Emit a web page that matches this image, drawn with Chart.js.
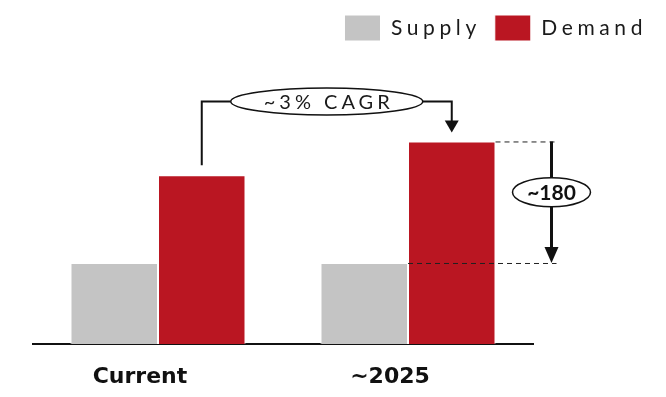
<!DOCTYPE html>
<html>
<head>
<meta charset="utf-8">
<script src="https://cdn.jsdelivr.net/npm/chart.js@4.4.1/dist/chart.umd.min.js"></script>
<style>
  html, body { margin: 0; padding: 0; background: #fff; }
  #wrap { width: 666px; height: 397px; }
</style>
</head>
<body>
<div id="wrap"><canvas id="gapChart"></canvas></div>
<script>
const categories = ['Current', '~2025'];
const supply = [120, 120];
const demand = [250, 300];
const seriesNames = ['Supply', 'Demand'];
const cagrText = '~3% CAGR';

const GREY = '#c4c4c4';
const RED = '#ba1622';
const INK = '#111111';

// legend text is letter-spaced, canvas supports that through ctx.letterSpacing
function spaced(el, name, px) {
  const orig = el[name];
  el[name] = function () {
    const ctx = this.ctx;
    ctx.save();
    ctx.letterSpacing = px + 'px';
    const r = orig.apply(this, arguments);
    ctx.restore();
    return r;
  };
}

const spacedLegend = {
  id: 'spacedLegend',
  beforeLayout(chart) {
    const legend = chart.legend;
    if (!legend || legend._spaced) return;
    legend._spaced = true;
    spaced(legend, 'fit', 4.6);
    spaced(legend, 'draw', 4.6);
  }
};

function ellipse(ctx, cx, cy, rx, ry) {
  ctx.beginPath();
  ctx.ellipse(cx, cy, rx, ry, 0, 0, Math.PI * 2);
  ctx.fillStyle = '#fff';
  ctx.fill();
  ctx.stroke();
}

function arrowHead(ctx, x, tipY, w, h) {
  ctx.beginPath();
  ctx.moveTo(x - w / 2, tipY - h);
  ctx.lineTo(x + w / 2, tipY - h);
  ctx.lineTo(x, tipY);
  ctx.closePath();
  ctx.fill();
}

// CAGR connector between the demand bars and the gap marker on the right
const gapNotes = {
  id: 'gapNotes',
  afterDatasetsDraw(chart) {
    const ctx = chart.ctx;
    const sBars = chart.getDatasetMeta(0).data;
    const dBars = chart.getDatasetMeta(1).data;
    const now = dBars[0], later = dBars[1], floor = sBars[1];

    ctx.save();
    ctx.strokeStyle = INK;
    ctx.fillStyle = INK;

    // growth connector
    const cy = later.y - 40;
    const cx = (now.x + later.x) / 2;
    const rx = 96, ry = 13.5;
    ctx.lineWidth = 2;
    ctx.beginPath();
    ctx.moveTo(now.x, now.y - 10);
    ctx.lineTo(now.x, cy);
    ctx.lineTo(cx - rx, cy);
    ctx.moveTo(cx + rx, cy);
    ctx.lineTo(later.x, cy);
    ctx.lineTo(later.x, later.y - 20);
    ctx.stroke();
    arrowHead(ctx, later.x, later.y - 9, 14, 12);

    ctx.lineWidth = 1.5;
    ellipse(ctx, cx, cy, rx, ry);
    ctx.fillStyle = '#1a1a1a';
    ctx.font = '20px Lato';
    ctx.letterSpacing = '4px';
    ctx.textAlign = 'center';
    ctx.textBaseline = 'middle';
    ctx.fillText(cagrText, cx + 2, cy + 1);
    ctx.letterSpacing = '0px';

    // supply/demand gap
    const right = later.x + later.width / 2;
    const ax = right + 56;
    const end = right + 61;
    ctx.strokeStyle = '#222';
    ctx.lineWidth = 1;
    ctx.setLineDash([5, 4]);
    ctx.beginPath();
    ctx.moveTo(right, later.y + 0.5);
    ctx.lineTo(end, later.y + 0.5);
    ctx.moveTo(later.x - later.width / 2, floor.y + 0.5);
    ctx.lineTo(end, floor.y + 0.5);
    ctx.stroke();
    ctx.setLineDash([]);

    ctx.strokeStyle = INK;
    ctx.fillStyle = INK;
    ctx.lineWidth = 3;
    ctx.beginPath();
    ctx.moveTo(ax, later.y);
    ctx.lineTo(ax, floor.y - 12);
    ctx.stroke();
    arrowHead(ctx, ax, floor.y, 14, 16);

    const my = (later.y + floor.y) / 2 - 10;
    ctx.lineWidth = 1.5;
    ellipse(ctx, ax, my, 39, 14.5);
    ctx.fillStyle = INK;
    ctx.font = 'bold 21px Lato';
    ctx.fillText('~' + (demand[1] - supply[1]), ax, my + 1);
    ctx.restore();
  }
};

const ctx = document.getElementById('gapChart').getContext('2d');
const chart = new Chart(ctx, {
  type: 'bar',
  data: {
    labels: categories,
    datasets: [{
      label: seriesNames[0],
      data: supply,
      backgroundColor: GREY,
      borderColor: '#fff',
      borderWidth: 1,
      borderSkipped: 'start'
    }, {
      label: seriesNames[1],
      data: demand,
      backgroundColor: RED,
      borderColor: '#fff',
      borderWidth: 1,
      borderSkipped: 'start'
    }]
  },
  options: {
    responsive: true,
    maintainAspectRatio: false,
    animation: false,
    categoryPercentage: 0.7,
    barPercentage: 1.0,
    layout: { padding: { left: 33, right: 5, top: 1, bottom: 0 } },
    plugins: {
      legend: {
        position: 'top',
        align: 'end',
        labels: {
          boxWidth: 36,
          boxHeight: 26,
          padding: 14,
          color: '#1a1a1a',
          font: { family: 'Lato', size: 21 }
        }
      },
      tooltip: { enabled: false }
    },
    scales: {
      x: {
        grid: { display: false, drawTicks: false },
        border: { display: true, color: INK, width: 2 },
        ticks: {
          color: INK,
          padding: 20,
          labelOffset: -18,
          font: { family: 'DejaVu Sans', size: 22, weight: 'bold' }
        },
        afterFit(scale) { scale.height = 53; }
      },
      y: {
        position: 'right',
        min: 0,
        max: 434,
        grid: { display: false },
        border: { display: false },
        ticks: { display: false },
        afterFit(scale) { scale.width = 128; }
      }
    }
  },
  plugins: [spacedLegend, gapNotes]
});
</script>
</body>
</html>
